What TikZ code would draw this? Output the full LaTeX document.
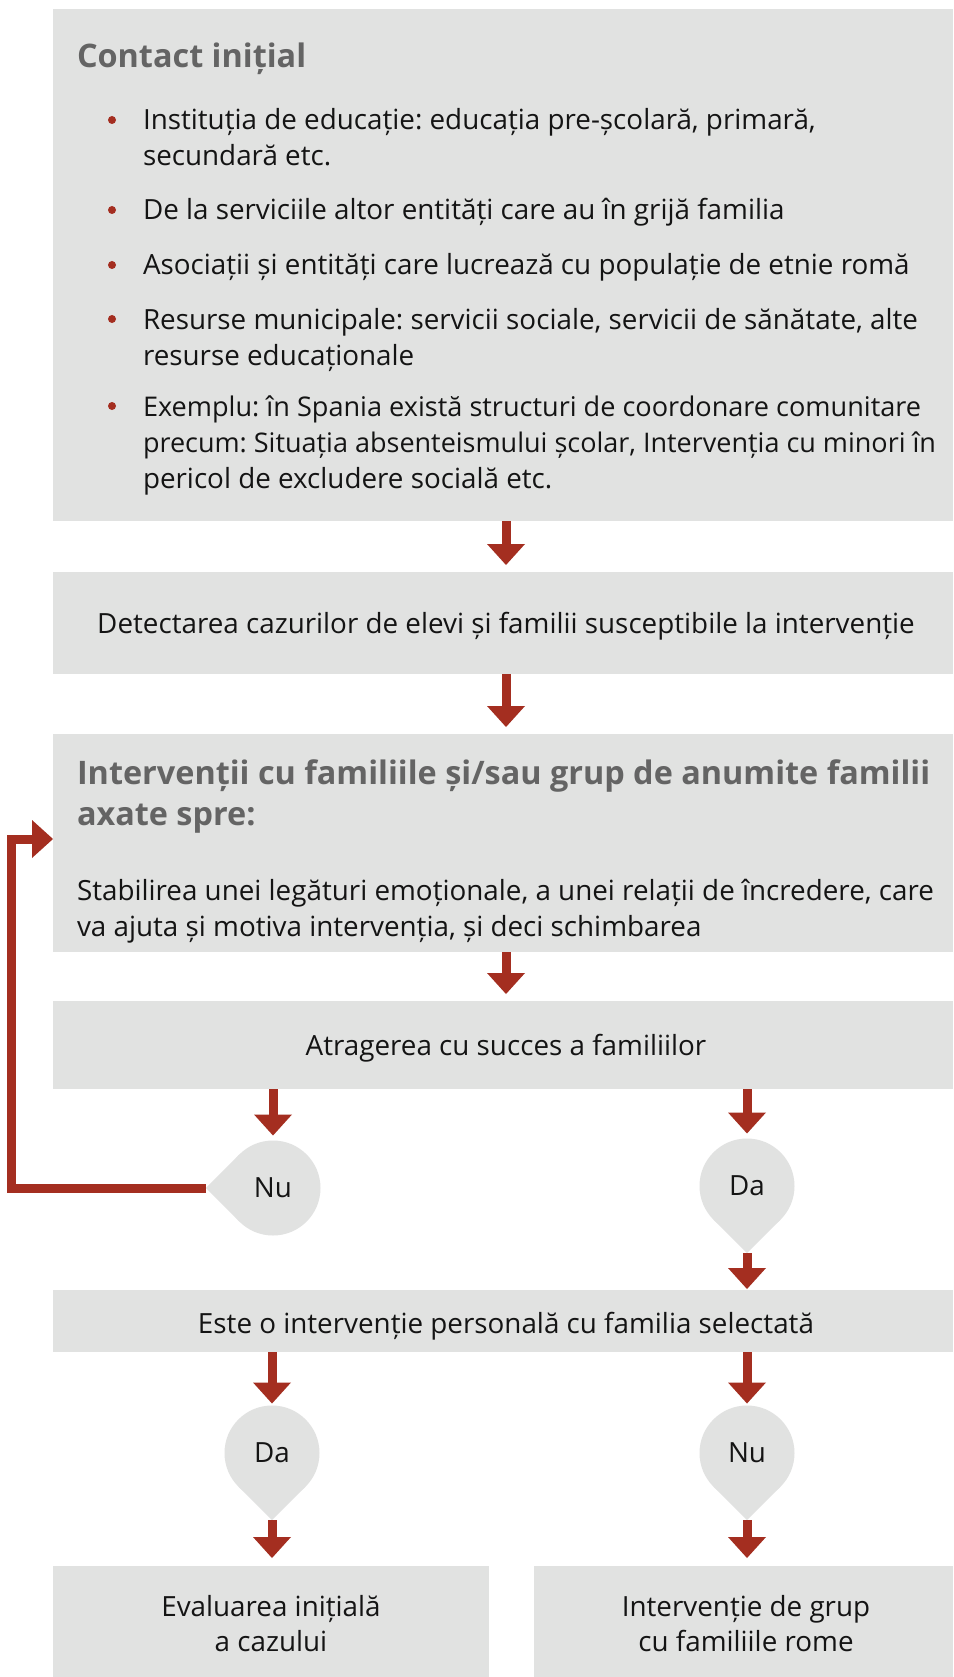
\documentclass[tikz,border=0pt]{standalone}
\usepackage{fontspec}
\setmainfont{Open Sans}
\usetikzlibrary{arrows.meta,calc}
\AtBeginDocument{\frenchspacing}
\definecolor{boxgray}{RGB}{225,226,225}
\definecolor{arrred}{RGB}{164,46,32}
\definecolor{ttlgray}{RGB}{100,100,100}
\definecolor{txtblack}{RGB}{20,20,20}
\tikzset{
  box/.style={rectangle, fill=boxgray, inner sep=0pt, outer sep=0pt, anchor=north west},
  txt/.style={inner sep=0pt, outer sep=0pt, text=txtblack, font=\fontsize{27.8}{36}\selectfont},
  ttl/.style={inner sep=0pt, outer sep=0pt, text=ttlgray, font=\fontsize{32.4}{40}\selectfont\bfseries},
  bul/.style={circle, fill=arrred, inner sep=0pt, outer sep=0pt, minimum size=8pt},
  tear/.style={circle, fill=boxgray, inner sep=0pt, outer sep=0pt, minimum size=95pt, text=txtblack, font=\fontsize{27.8}{36}\selectfont},
  arr/.style={draw=arrred, line width=9pt, -{Triangle[length=21pt 0 0, width=38pt 0 0, line width=0pt 0 0]}},
}
\newcommand{\teartip}[3]{% node name, direction angle, tip coordinate name
  \fill[boxgray] (#1.center) -- +(#2-45:47.5pt) -- +(#2:67.2pt) -- +(#2+45:47.5pt) -- cycle;
  \coordinate (#3) at ($(#1.center)+(#2:67.2pt)$);
}
\begin{document}
\begin{tikzpicture}[x=1pt,y=1pt]
\useasboundingbox (0,0) rectangle (953,-1677);
\fill[white] (0,0) rectangle (953,-1677);
\coordinate (cx) at (506,0);
\coordinate (lx) at (11,0);

% boxes
\node[box, minimum width=900pt, minimum height=512pt] (b1) at (53,-9) {};
\node[box, minimum width=900pt, minimum height=102pt] (b2) at (53,-572) {};
\node[box, minimum width=900pt, minimum height=218pt] (b3) at (53,-734) {};
\node[box, minimum width=900pt, minimum height=88pt] (b4) at (53,-1001) {};
\node[box, minimum width=900pt, minimum height=62pt] (b5) at (53,-1290) {};
\node[box, minimum width=436pt, minimum height=111pt] (b6) at (53,-1566) {};
\node[box, minimum width=419pt, minimum height=111pt] (b7) at (534,-1566) {};

% box 1 content
\node[ttl, anchor=base west] (t1) at (77,-68) {Contact inițial};
\node[bul] (u1) at (112,-120) {};
\node[bul] (u2) at (112,-210) {};
\node[bul] (u3) at (112,-265) {};
\node[bul] (u4) at (112,-319) {};
\node[bul] (u5) at (112,-406) {};
\node[txt, anchor=base west] (l1a) at (143,-130) {Instituția de educație: educația pre-școlară, primară,};
\node[txt, anchor=base west] (l1b) at (143,-166) {secundară etc.};
\node[txt, anchor=base west] (l2) at (143,-220) {De la serviciile altor entități care au în grijă familia};
\node[txt, anchor=base west] (l3) at (143,-275) {Asociații și entități care lucrează cu populație de etnie romă};
\node[txt, anchor=base west] (l4a) at (143,-329) {Resurse municipale: servicii sociale, servicii de sănătate, alte};
\node[txt, anchor=base west] (l4b) at (143,-365) {resurse educaționale};
\node[txt, anchor=base west, font=\fontsize{27.1}{36}\selectfont] (l5a) at (143,-416) {Exemplu: în Spania există structuri de coordonare comunitare};
\node[txt, anchor=base west, font=\fontsize{27}{36}\selectfont] (l5b) at (143,-452) {precum: Situația absenteismului școlar, Intervenția cu minori în};
\node[txt, anchor=base west] (l5c) at (143,-488) {pericol de excludere socială etc.};

% box 2
\node[txt, anchor=base] (t2) at (506,-633) {Detectarea cazurilor de elevi și familii susceptibile la intervenție};

% box 3
\node[ttl, anchor=base west] (t3a) at (77,-784) {Intervenții cu familiile și/sau grup de anumite familii};
\node[ttl, anchor=base west] (t3b) at (77,-825) {axate spre:};
\node[txt, anchor=base west] (t3c) at (77,-900) {Stabilirea unei legături emoționale, a unei relații de încredere, care};
\node[txt, anchor=base west] (t3d) at (77,-936) {va ajuta și motiva intervenția, și deci schimbarea};

% box 4, 5
\node[txt, anchor=base] (t4) at (506,-1055) {Atragerea cu succes a familiilor};
\node[txt, anchor=base] (t5) at (506,-1333) {Este o intervenție personală cu familia selectată};

% bottom boxes
\node[txt, anchor=base] (t6a) at (271,-1616) {Evaluarea inițială};
\node[txt, anchor=base] (t6b) at (271,-1651) {a cazului};
\node[txt, anchor=base] (t7a) at (746,-1616) {Intervenție de grup};
\node[txt, anchor=base] (t7b) at (746,-1651) {cu familiile rome};

% teardrop decisions
\node[tear] (nu1) at (273,-1188) {};
\node[tear] (da1) at (747,-1186) {};
\node[tear] (da2) at (272,-1453) {};
\node[tear] (nu2) at (747,-1453) {};
\teartip{nu1}{180}{nu1tip}
\teartip{da1}{270}{da1tip}
\teartip{da2}{270}{da2tip}
\teartip{nu2}{270}{nu2tip}
\node[tear, fill=none] (nu1t) at (nu1) {Nu};
\node[tear, fill=none] (da1t) at (da1) {Da};
\node[tear, fill=none] (da2t) at (da2) {Da};
\node[tear, fill=none] (nu2t) at (nu2) {Nu};

% connectors
\draw[arr, shorten >=7pt] (b1.south -| cx) -- (b2.north -| cx);
\draw[arr, shorten >=7pt] (b2.south -| cx) -- (b3.north -| cx);
\draw[arr, shorten >=7pt] (b3.south -| cx) -- (b4.north -| cx);
\draw[arr, shorten >=5pt] (b4.south -| nu1) -- (nu1.north);
\draw[arr, shorten >=5pt] (b4.south -| da1) -- (da1.north);
\draw[arr, shorten >=1pt] (da1tip) -- (b5.north -| da1);
\draw[arr, shorten >=2pt] (b5.south -| da2) -- (da2.north);
\draw[arr, shorten >=2pt] (b5.south -| nu2) -- (nu2.north);
\draw[arr, shorten >=8pt] (da2tip) -- (b6.north -| da2);
\draw[arr, shorten >=8pt] (nu2tip) -- (b7.north -| nu2);
\draw[arr] (nu1tip) -- (nu1tip -| lx) |- ([yshift=4pt]b3.west);
\end{tikzpicture}
\end{document}
